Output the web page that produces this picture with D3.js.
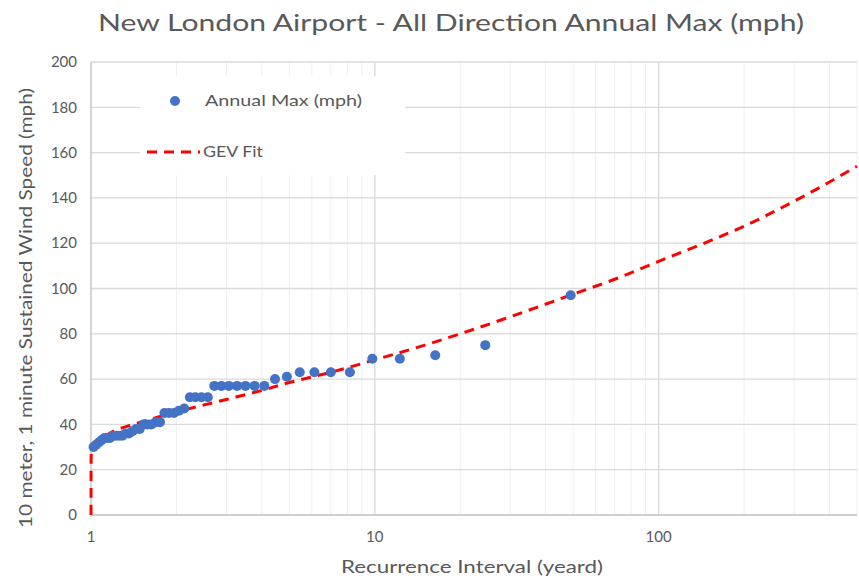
<!DOCTYPE html>
<html>
<head>
<meta charset="utf-8">
<script src="https://cdn.jsdelivr.net/npm/d3@7"></script>
<style>
  html, body { margin: 0; padding: 0; background: #fff; }
  svg { display: block; }
  text { font-family: "Lato", "Open Sans", sans-serif; fill: #595959; }
</style>
</head>
<body>
<svg id="chart" width="859" height="578"></svg>
<script>
// ---- data ----
const title = "New London Airport - All Direction Annual Max (mph)";
const xTitle = "Recurrence Interval (yeard)";
const yTitle = "10 meter, 1 minute Sustained Wind Speed (mph)";
const seriesNames = ["Annual Max (mph)", "GEV Fit"];

// Annual max points: recurrence interval (years) and speed (mph)
const obsT = [49, 24.5, 16.33, 12.25, 9.8, 8.17, 7, 6.125, 5.44, 4.9, 4.45, 4.08,
  3.77, 3.5, 3.27, 3.06, 2.88, 2.72, 2.58, 2.45, 2.33, 2.23, 2.13, 2.04,
  1.96, 1.885, 1.815, 1.75, 1.69, 1.633, 1.581, 1.531, 1.485, 1.441, 1.4, 1.361,
  1.324, 1.289, 1.256, 1.225, 1.195, 1.167, 1.14, 1.114, 1.089, 1.065, 1.043, 1.021];
const obsV = [97, 75, 70.5, 69, 69, 63, 63, 63, 63, 61, 60, 57,
  57, 57, 57, 57, 57, 57, 52, 52, 52, 52, 47, 46,
  45, 45, 45, 41, 41, 40, 40, 40, 38, 38, 37, 36,
  36, 35, 35, 35, 35, 34, 34, 34, 33, 32, 31, 30];

// GEV fit curve
const fitT = [1, 1.001, 1.01, 1.05, 1.1, 1.2, 1.37, 1.5, 2, 3, 4, 5, 7, 10, 15, 20, 30, 50, 75, 100, 150, 200, 300, 400, 500];
const fitV = [0, 26, 29, 32, 34, 37, 39.5, 41, 45.5, 51, 55, 58.5, 63, 68.5, 75, 80, 87.5, 97.5, 105.5, 112, 120.8, 127.5, 138.5, 147, 154];

const xTicks = [1, 10, 100];
const yTicks = [0, 20, 40, 60, 80, 100, 120, 140, 160, 180, 200];
const xMinor = [2,3,4,5,6,7,8,9,20,30,40,50,60,70,80,90,200,300,400,500];

// ---- layout ----
const svg = d3.select("#chart");
const L = 91, R = 857, T = 62, B = 515;
const x = d3.scaleLog().domain([1, 500]).range([L, R]);
const y = d3.scaleLinear().domain([0, 200]).range([B, T]);

// gridlines
svg.append("g").selectAll("line").data(xMinor).join("line")
  .attr("x1", d => x(d)).attr("x2", d => x(d)).attr("y1", T).attr("y2", B)
  .attr("stroke", "#efefef").attr("stroke-width", 1);
svg.append("g").selectAll("line").data([10, 100]).join("line")
  .attr("x1", d => x(d)).attr("x2", d => x(d)).attr("y1", T).attr("y2", B)
  .attr("stroke", "#d9d9d9").attr("stroke-width", 1.3);
svg.append("g").selectAll("line").data(yTicks.slice(1)).join("line")
  .attr("x1", L).attr("x2", R).attr("y1", d => y(d)).attr("y2", d => y(d))
  .attr("stroke", "#d9d9d9").attr("stroke-width", 1.3);

// axes lines
svg.append("line").attr("x1", L).attr("x2", R).attr("y1", B).attr("y2", B)
  .attr("stroke", "#bfbfbf").attr("stroke-width", 1.3);
svg.append("line").attr("x1", L).attr("x2", L).attr("y1", T).attr("y2", B)
  .attr("stroke", "#bfbfbf").attr("stroke-width", 1.3);

// legend background
svg.append("rect").attr("x", 140).attr("y", 76).attr("width", 265).attr("height", 99)
  .attr("fill", "#fff");

// GEV fit line
const fit = fitT.map((t, i) => [t, fitV[i]]);
svg.append("path").datum(fit)
  .attr("d", d3.line().curve(d3.curveMonotoneX).x(d => x(d[0])).y(d => y(d[1])))
  .attr("fill", "none").attr("stroke", "#ff0000").attr("stroke-width", 3)
  .attr("stroke-dasharray", "10,7");

// observed points
const obs = obsT.map((t, i) => [t, obsV[i]]);
svg.append("g").selectAll("circle").data(obs).join("circle")
  .attr("cx", d => x(d[0])).attr("cy", d => y(d[1])).attr("r", 5)
  .attr("fill", "#4472c4");

// tick labels
svg.append("g").selectAll("text").data(yTicks).join("text")
  .attr("x", 77).attr("y", d => y(d)).attr("dy", "0.35em")
  .attr("text-anchor", "end").attr("font-size", 15).text(d => d);
svg.append("g").selectAll("text").data(xTicks).join("text")
  .attr("x", d => x(d)).attr("y", 542)
  .attr("text-anchor", "middle").attr("font-size", 15).text(d => d);

// titles
svg.append("text").attr("x", 451).attr("y", 31).attr("text-anchor", "middle")
  .attr("font-size", 24).attr("textLength", 706).attr("lengthAdjust", "spacingAndGlyphs")
  .text(title);
svg.append("text").attr("x", 472).attr("y", 573).attr("text-anchor", "middle")
  .attr("font-size", 17).attr("textLength", 262).attr("lengthAdjust", "spacingAndGlyphs")
  .text(xTitle);
svg.append("text").attr("transform", "translate(32,308) rotate(-90)")
  .attr("text-anchor", "middle").attr("font-size", 17)
  .attr("textLength", 440).attr("lengthAdjust", "spacingAndGlyphs")
  .text(yTitle);

// legend
svg.append("circle").attr("cx", 175).attr("cy", 101).attr("r", 5).attr("fill", "#4472c4");
svg.append("text").attr("x", 205).attr("y", 101).attr("dy", "0.35em").attr("font-size", 15)
  .attr("textLength", 157).attr("lengthAdjust", "spacingAndGlyphs").text(seriesNames[0]);
svg.append("line").attr("x1", 147).attr("x2", 200).attr("y1", 152).attr("y2", 152)
  .attr("stroke", "#ff0000").attr("stroke-width", 3).attr("stroke-dasharray", "10,7");
svg.append("text").attr("x", 203).attr("y", 152).attr("dy", "0.35em").attr("font-size", 15)
  .attr("textLength", 60).attr("lengthAdjust", "spacingAndGlyphs").text(seriesNames[1]);
</script>
</body>
</html>
